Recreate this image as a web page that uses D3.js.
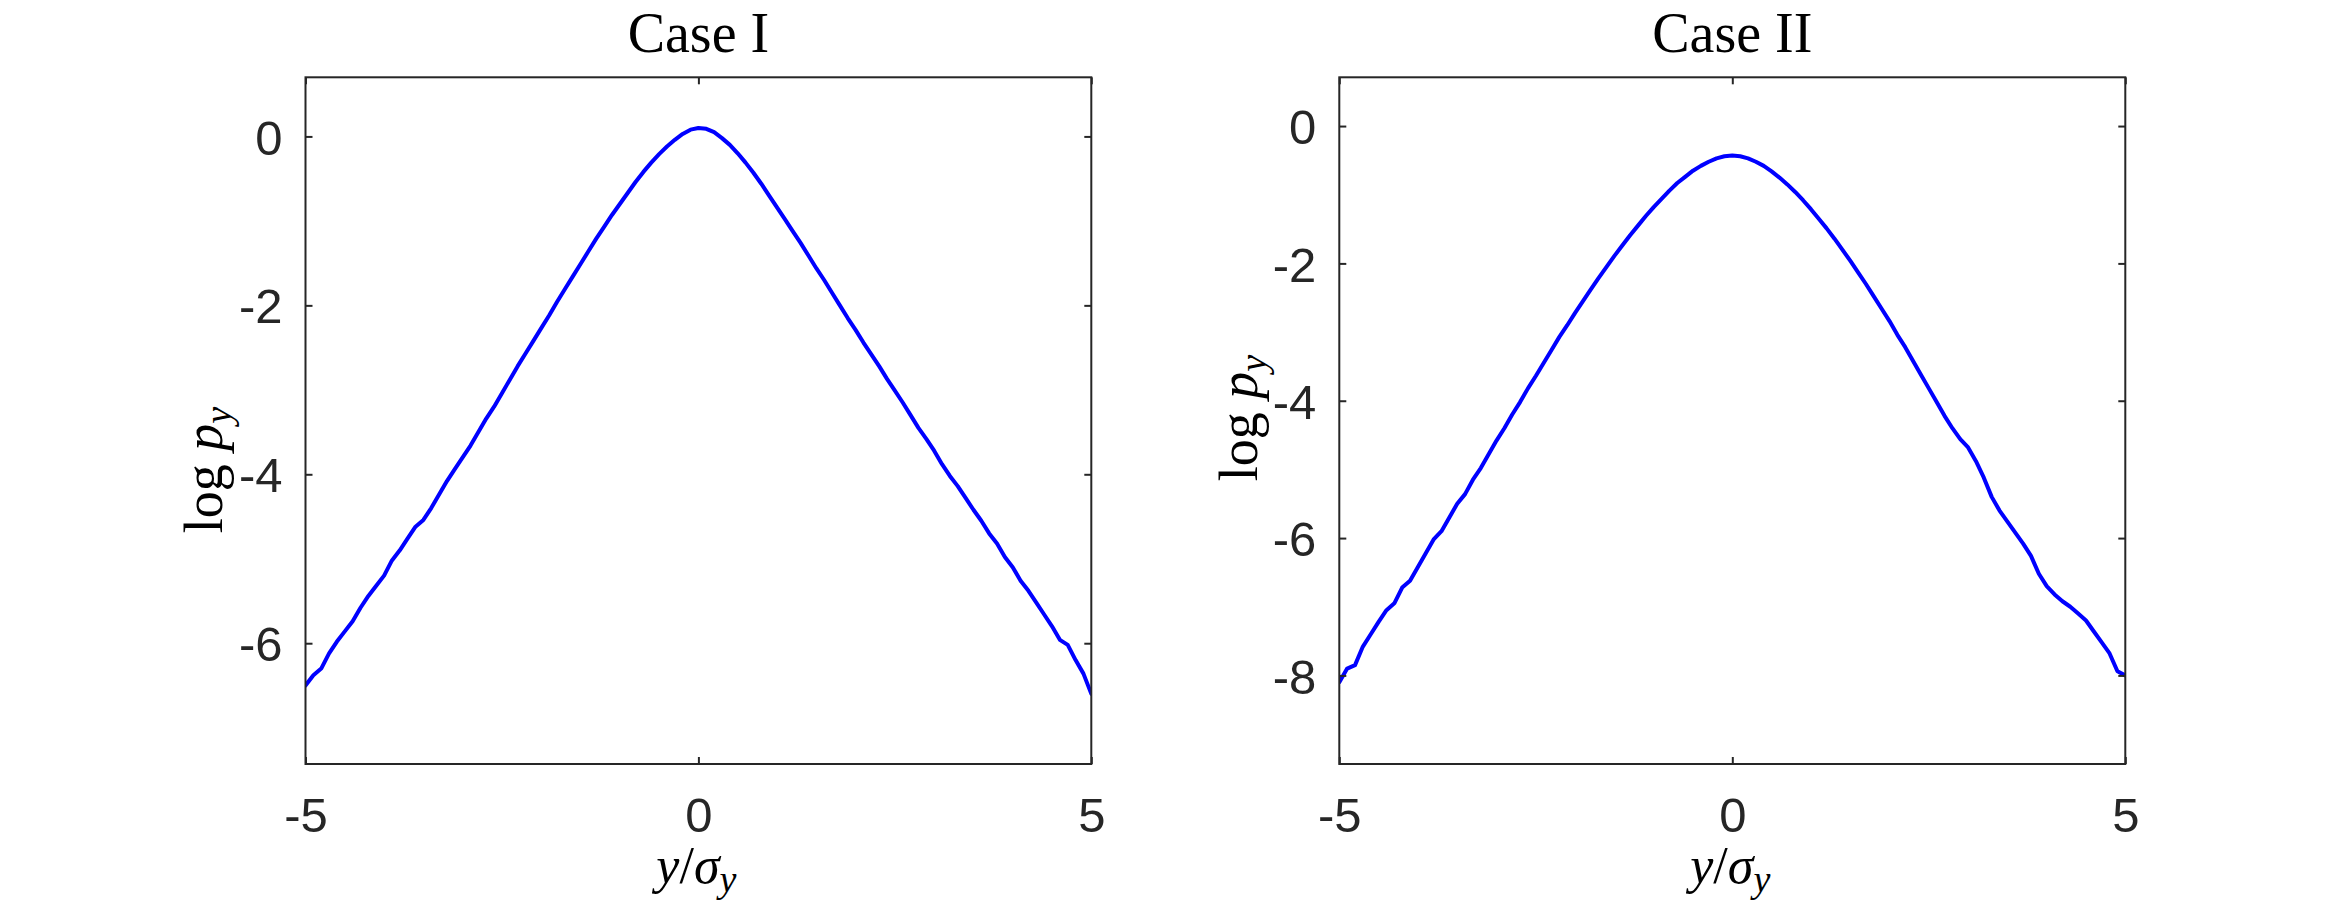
<!DOCTYPE html>
<html>
<head>
<meta charset="utf-8">
<script src="https://cdn.jsdelivr.net/npm/d3@7"></script>
<style>
  html, body { margin: 0; padding: 0; background: #fff; }
  svg { display: block; }
</style>
</head>
<body>
<svg id="chart" width="2348" height="900"></svg>
<script>
// ---------------- data ----------------
const xGrid = [-5.0,-4.9,-4.8,-4.7,-4.6,-4.5,-4.4,-4.3,-4.2,-4.1,-4.0,-3.9,-3.8,-3.7,-3.6,-3.5,-3.4,-3.3,-3.2,-3.1,
  -3.0,-2.9,-2.8,-2.7,-2.6,-2.5,-2.4,-2.3,-2.2,-2.1,-2.0,-1.9,-1.8,-1.7,-1.6,-1.5,-1.4,-1.3,-1.2,-1.1,
  -1.0,-0.9,-0.8,-0.7,-0.6,-0.5,-0.4,-0.3,-0.2,-0.1,0.0,0.1,0.2,0.3,0.4,0.5,0.6,0.7,0.8,0.9,
  1.0,1.1,1.2,1.3,1.4,1.5,1.6,1.7,1.8,1.9,2.0,2.1,2.2,2.3,2.4,2.5,2.6,2.7,2.8,2.9,
  3.0,3.1,3.2,3.3,3.4,3.5,3.6,3.7,3.8,3.9,4.0,4.1,4.2,4.3,4.4,4.5,4.6,4.7,4.8,4.9,5.0];

const caseI = [-6.50,-6.38,-6.30,-6.12,-5.98,-5.86,-5.74,-5.58,-5.44,-5.32,-5.20,-5.02,-4.90,-4.76,-4.62,-4.54,-4.40,-4.24,-4.08,-3.94,
  -3.80,-3.66,-3.50,-3.34,-3.20,-3.04,-2.88,-2.72,-2.57,-2.42,-2.27,-2.12,-1.96,-1.81,-1.66,-1.51,-1.36,-1.21,-1.07,-0.93,
  -0.80,-0.67,-0.54,-0.42,-0.31,-0.21,-0.12,-0.04,0.03,0.08,0.10,0.09,0.05,-0.02,-0.10,-0.20,-0.31,-0.43,-0.56,-0.70,
  -0.84,-0.98,-1.12,-1.26,-1.41,-1.56,-1.70,-1.85,-2.00,-2.15,-2.29,-2.44,-2.58,-2.72,-2.87,-3.01,-3.15,-3.30,-3.45,-3.58,
  -3.72,-3.88,-4.02,-4.14,-4.28,-4.42,-4.55,-4.70,-4.82,-4.98,-5.10,-5.26,-5.38,-5.52,-5.66,-5.80,-5.96,-6.02,-6.20,-6.36,-6.60];

const caseII = [-8.10,-7.90,-7.85,-7.58,-7.40,-7.22,-7.05,-6.95,-6.72,-6.62,-6.42,-6.22,-6.02,-5.90,-5.70,-5.50,-5.36,-5.15,-4.98,-4.78,
  -4.58,-4.40,-4.20,-4.02,-3.82,-3.64,-3.45,-3.26,-3.07,-2.90,-2.72,-2.55,-2.38,-2.21,-2.05,-1.89,-1.74,-1.59,-1.45,-1.31,
  -1.18,-1.06,-0.94,-0.83,-0.74,-0.65,-0.58,-0.52,-0.47,-0.44,-0.43,-0.44,-0.47,-0.52,-0.58,-0.66,-0.75,-0.85,-0.96,-1.08,
  -1.21,-1.35,-1.49,-1.64,-1.80,-1.96,-2.13,-2.30,-2.48,-2.66,-2.84,-3.04,-3.22,-3.42,-3.62,-3.82,-4.02,-4.22,-4.40,-4.56,
  -4.68,-4.88,-5.12,-5.40,-5.60,-5.76,-5.92,-6.08,-6.26,-6.52,-6.70,-6.82,-6.92,-7.00,-7.10,-7.20,-7.36,-7.52,-7.68,-7.94,-8.00];

const titles = ["Case I", "Case II"];
const xTicks = [-5, 0, 5];
const yTicksI = [0, -2, -4, -6];
const yTicksII = [0, -2, -4, -6, -8];
const xDomain = [-5, 5];
const yDomainI = [-7.43, 0.70];
const yDomainII = [-9.29, 0.71];

// ---------------- layout ----------------
const svg = d3.select("#chart");
const panels = [
  { left: 305.5, right: 1091.3, top: 77.3, bottom: 764, values: caseI, yDomain: yDomainI, yTicks: yTicksI, title: titles[0], ylabX: 222, ylabY: 470 },
  { left: 1339.3, right: 2125.3, top: 77.3, bottom: 764, values: caseII, yDomain: yDomainII, yTicks: yTicksII, title: titles[1], ylabX: 1257, ylabY: 418 }
];

const axisColor = "#262626";
const tickFont = "'Liberation Sans', Arial, Helvetica, sans-serif";
const serif = "'Liberation Serif', 'Times New Roman', serif";

panels.forEach(p => {
  const x = d3.scaleLinear().domain(xDomain).range([p.left, p.right]);
  const y = d3.scaleLinear().domain(p.yDomain).range([p.bottom, p.top]);
  const g = svg.append("g");

  const clipId = "clip" + Math.round(p.left);
  svg.append("clipPath").attr("id", clipId).append("rect")
    .attr("x", p.left).attr("y", p.top).attr("width", p.right - p.left).attr("height", p.bottom - p.top);

  const line = d3.line().x((d, i) => x(xGrid[i])).y(d => y(d));
  g.append("path").datum(p.values)
    .attr("clip-path", `url(#${clipId})`)
    .attr("d", line)
    .attr("fill", "none").attr("stroke", "#0000ff").attr("stroke-width", 4)
    .attr("stroke-linejoin", "round").attr("stroke-linecap", "round");

  const tickLen = 7;
  const fmt = d => (d < 0 ? "-" + Math.abs(d) : String(d));

  const gb = g.append("g").attr("transform", `translate(0,${p.bottom})`)
    .call(d3.axisBottom(x).tickValues(xTicks).tickSizeInner(-tickLen).tickSizeOuter(0).tickPadding(tickLen + 26).tickFormat(fmt));
  const gl = g.append("g").attr("transform", `translate(${p.left},0)`)
    .call(d3.axisLeft(y).tickValues(p.yTicks).tickSizeInner(-tickLen).tickSizeOuter(0).tickPadding(tickLen + 16).tickFormat(fmt));
  const gt = g.append("g").attr("transform", `translate(0,${p.top})`)
    .call(d3.axisTop(x).tickValues(xTicks).tickSizeInner(-tickLen).tickSizeOuter(0).tickFormat(""));
  const gr = g.append("g").attr("transform", `translate(${p.right},0)`)
    .call(d3.axisRight(y).tickValues(p.yTicks).tickSizeInner(-tickLen).tickSizeOuter(0).tickFormat(""));

  [gb, gl, gt, gr].forEach(a => {
    a.select(".domain").remove();
    a.selectAll("line").attr("stroke", axisColor).attr("stroke-width", 2);
    a.selectAll("text").attr("fill", axisColor).attr("font-family", tickFont).attr("font-size", 49);
  });
  gb.selectAll("text").attr("dy", "0.71em");
  gl.selectAll("text").attr("dy", "0.36em");

  g.append("rect")
    .attr("x", p.left).attr("y", p.top).attr("width", p.right - p.left).attr("height", p.bottom - p.top)
    .attr("fill", "none").attr("stroke", axisColor).attr("stroke-width", 2);

  g.append("text")
    .attr("x", (p.left + p.right) / 2).attr("y", 51.7)
    .attr("text-anchor", "middle").attr("font-family", serif).attr("font-size", 56).attr("fill", "#000")
    .text(p.title);

  const xl = g.append("text")
    .attr("x", (p.left + p.right) / 2 - 2).attr("y", 883)
    .attr("text-anchor", "middle").attr("font-family", serif).attr("font-size", 52).attr("fill", "#000");
  xl.append("tspan").attr("font-style", "italic").text("y");
  xl.append("tspan").text("/");
  xl.append("tspan").attr("font-style", "italic").text("σ");
  xl.append("tspan").attr("font-style", "italic").attr("font-size", 38).attr("dy", 9).text("y");

  const yl = g.append("text")
    .attr("transform", `translate(${p.ylabX},${p.ylabY}) rotate(-90)`)
    .attr("text-anchor", "middle").attr("font-family", serif).attr("font-size", 54).attr("fill", "#000");
  yl.append("tspan").text("log ");
  yl.append("tspan").attr("font-style", "italic").text("p");
  yl.append("tspan").attr("font-style", "italic").attr("font-size", 38).attr("dy", 9).text("y");
});
</script>
</body>
</html>
